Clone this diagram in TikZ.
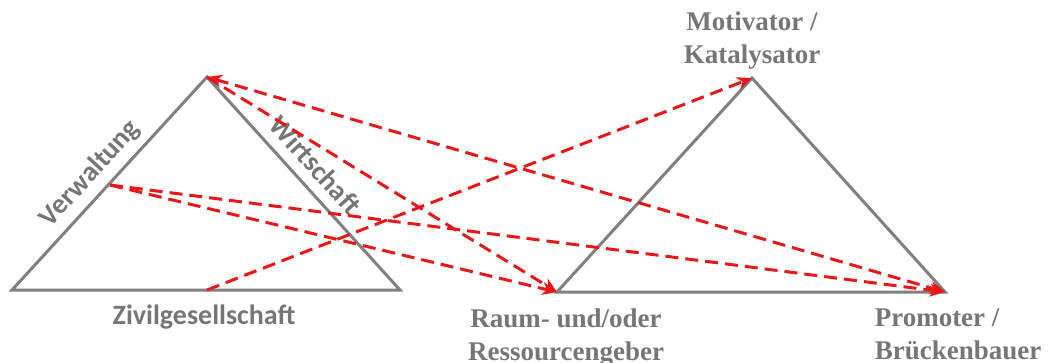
\documentclass[tikz,border=0pt]{standalone}
\usepackage{fontspec}
\setmainfont{Liberation Serif}
\newfontfamily\labelsans{Carlito}
\usetikzlibrary{arrows.meta,positioning}

\definecolor{sidegray}{RGB}{128,128,128}
\definecolor{textgray}{RGB}{118,118,118}
\definecolor{linkred}{RGB}{232,24,24}

\tikzset{
  side/.style={draw=sidegray, line width=3pt},
  link/.style={draw=linkred, line width=3pt, dash pattern=on 13pt off 7pt, ->},
  sidelabel/.style={text=textgray, font=\labelsans\bfseries\fontsize{28}{32}\selectfont, inner sep=0pt},
  rolelabel/.style={text=textgray, font=\bfseries\fontsize{27}{33}\selectfont, inner sep=0pt, align=center},
}

\begin{document}
\begin{tikzpicture}[x=1pt,y=-1pt,>={Stealth[length=15pt,width=13pt]}]
  \useasboundingbox (0,0) rectangle (1048,363);
  % left triangle
  \coordinate (lT) at (207,77);
  \coordinate (lA) at (12,290);
  \coordinate (lC) at (400,290);
  \coordinate (verw) at (110,185);
  \coordinate (ziv) at (207,290);
  \draw[side] (lA) -- node[sidelabel, pos=0.48, sloped, above, inner sep=7pt] (verwlbl) {Verwaltung}
    (lT) -- node[sidelabel, pos=0.48, sloped, above, inner sep=10pt] (wirtlbl) {Wirtschaft}
    (lC) -- cycle;
  \node[sidelabel, below=15pt of ziv, xshift=-3pt] (zivlbl) {Zivilgesellschaft};
  % right triangle
  \coordinate (rT) at (752,78);
  \coordinate (rA) at (557,292);
  \coordinate (rC) at (945,292);
  \draw[side] (rA) -- (rT) -- (rC) -- cycle;
  \node[rolelabel, above=8pt of rT] (motlbl) {Motivator /\\Katalysator};
  \node[rolelabel, below=17pt of rA, xshift=9pt] (raumlbl) {Raum- und/oder\\Ressourcengeber};
  \node[rolelabel, align=left, below=17pt of rC, xshift=13pt] (promlbl) {Promoter /\\Brückenbauer};
  % links
  \draw[link] (ziv) -- (rT);
  \draw[link] (lT) -- (rA);
  \draw[link, <->] (lT) -- (rC);
  \draw[link] (verw) -- (rA);
  \draw[link] (verw) -- (rC);
\end{tikzpicture}
\end{document}
